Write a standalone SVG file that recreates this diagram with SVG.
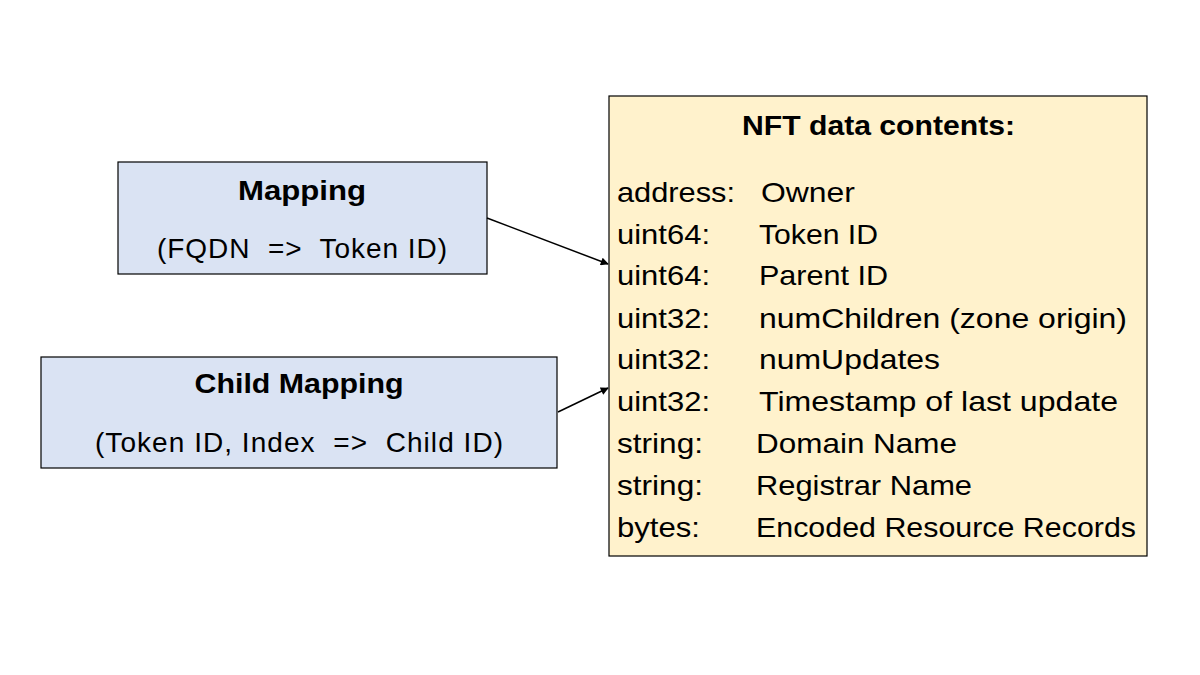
<svg xmlns="http://www.w3.org/2000/svg" width="1200" height="675" viewBox="0 0 1200 675">
<style>
.box{stroke:#000;stroke-width:1.2}
.blue{fill:#DAE3F3}
.yel{fill:#FFF2CC}
text{font-family:"Liberation Sans",Arial,sans-serif;fill:#000;font-size:28px}
.b{font-weight:bold}
.conn{stroke:#000;stroke-width:1.5;fill:none;marker-end:url(#ah)}
</style>
<defs>
<marker id="ah" viewBox="0 0 10 10" refX="9" refY="5" markerWidth="9" markerHeight="8" orient="auto" markerUnits="userSpaceOnUse">
<path d="M0,0 L10,5 L0,10 z" fill="#000"/>
</marker>
</defs>
<rect width="1200" height="675" fill="#fff"/>
<g id="mapping">
<rect class="box blue" x="118" y="162" width="369" height="112"/>
<text class="b" x="302" y="200" text-anchor="middle" textLength="128" lengthAdjust="spacingAndGlyphs">Mapping</text>
<text x="157" y="258" xml:space="preserve" textLength="290">(FQDN  =&gt;  Token ID)</text>
</g>
<g id="child-mapping">
<rect class="box blue" x="41" y="357" width="516" height="111"/>
<text class="b" x="299" y="393" text-anchor="middle" textLength="209" lengthAdjust="spacingAndGlyphs">Child Mapping</text>
<text x="95" y="452" xml:space="preserve" textLength="408">(Token ID, Index  =&gt;  Child ID)</text>
</g>
<g id="nft-data">
<rect class="box yel" x="609" y="96" width="538" height="460"/>
<text class="b" x="742" y="135" textLength="273" lengthAdjust="spacingAndGlyphs">NFT data contents:</text>
<text x="617" y="202" textLength="118" lengthAdjust="spacingAndGlyphs">address:</text><text x="761" y="202" textLength="94" lengthAdjust="spacingAndGlyphs">Owner</text>
<text x="617" y="244" textLength="93" lengthAdjust="spacingAndGlyphs">uint64:</text><text x="759" y="244" textLength="119" lengthAdjust="spacingAndGlyphs">Token ID</text>
<text x="617" y="285" textLength="93" lengthAdjust="spacingAndGlyphs">uint64:</text><text x="759" y="285" textLength="129" lengthAdjust="spacingAndGlyphs">Parent ID</text>
<text x="617" y="328" textLength="93" lengthAdjust="spacingAndGlyphs">uint32:</text><text x="759" y="328" textLength="368" lengthAdjust="spacingAndGlyphs">numChildren (zone origin)</text>
<text x="617" y="369" textLength="93" lengthAdjust="spacingAndGlyphs">uint32:</text><text x="759" y="369" textLength="181" lengthAdjust="spacingAndGlyphs">numUpdates</text>
<text x="617" y="411" textLength="93" lengthAdjust="spacingAndGlyphs">uint32:</text><text x="759" y="411" textLength="359" lengthAdjust="spacingAndGlyphs">Timestamp of last update</text>
<text x="617" y="453" textLength="86" lengthAdjust="spacingAndGlyphs">string:</text><text x="756" y="453" textLength="201" lengthAdjust="spacingAndGlyphs">Domain Name</text>
<text x="617" y="495" textLength="86" lengthAdjust="spacingAndGlyphs">string:</text><text x="756" y="495" textLength="216" lengthAdjust="spacingAndGlyphs">Registrar Name</text>
<text x="617" y="537" textLength="83" lengthAdjust="spacingAndGlyphs">bytes:</text><text x="756" y="537" textLength="380" lengthAdjust="spacingAndGlyphs">Encoded Resource Records</text>
</g>
<g id="connectors">
<line class="conn" x1="487" y1="218" x2="608" y2="264"/>
<line class="conn" x1="558" y1="412" x2="608" y2="388"/>
</g>
</svg>
